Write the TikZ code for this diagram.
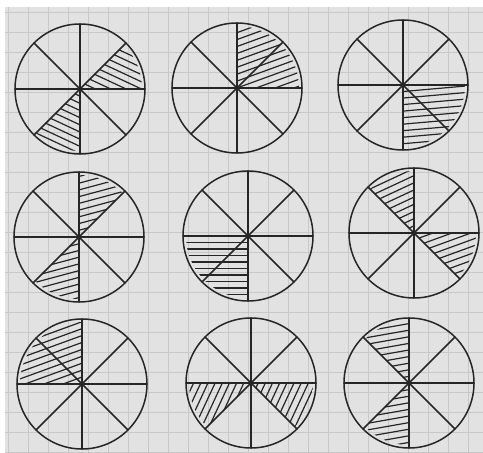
\documentclass[tikz,border=0pt]{standalone}
\usetikzlibrary{calc}
\definecolor{paper}{RGB}{226,226,226}
\definecolor{gridc}{RGB}{200,200,200}
\definecolor{pen}{RGB}{38,38,38}
\tikzset{
  circ/.style={draw=pen, line width=1.5pt},
  spoke/.style={draw=pen, line width=1.6pt, line cap=round},
  hatchline/.style={draw=pen, line width=1.2pt, line cap=round},
}
\newcommand\Rad{65}
% #1 centre name, #2 start angle, #3 end angle, #4 hatch angle
\newcommand\hsec[4]{%
  \begin{scope}
    \clip (#1) -- ($(#1)+(#2:\Rad-3)$) arc[start angle=#2, end angle=#3, radius=\Rad-3] -- cycle;
    \foreach \k in {-12,...,12}
      \draw[hatchline, shift={(#1)}, rotate=#4] (-90,\k*6.5) -- (90,\k*6.5);
  \end{scope}}
\newcommand\wheel[1]{%
  \foreach \a in {0,45,...,315}
    \draw[spoke] (#1) -- ++(\a:\Rad);
  \draw[circ] (#1) circle[radius=\Rad];}
\begin{document}
\begin{tikzpicture}[x=1pt,y=1pt]
  \useasboundingbox (0,0) rectangle (483,453);
  \fill[white] (0,0) rectangle (483,453);
  \fill[paper] (5,0) rectangle (483,446);
  \begin{scope}
    \clip (5,0) rectangle (483,446);
    \foreach \x in {8,28,...,480} \draw[gridc, line width=0.8pt] (\x,0) -- (\x,446);
    \foreach \y in {1,21,...,446} \draw[gridc, line width=0.8pt] (5,\y) -- (483,\y);
  \end{scope}
  \coordinate (c1) at (80,364);
  \coordinate (c2) at (237,365);
  \coordinate (c3) at (403,368);
  \coordinate (c4) at (79,216);
  \coordinate (c5) at (248,217);
  \coordinate (c6) at (414,220);
  \coordinate (c7) at (82,69);
  \coordinate (c8) at (251,70);
  \coordinate (c9) at (409,70);
  % hatching
  \hsec{c1}{0}{45}{-25}
  \hsec{c1}{225}{270}{-25}
  \hsec{c2}{0}{90}{20}
  \hsec{c3}{270}{360}{5}
  \hsec{c4}{45}{90}{15}
  \hsec{c4}{225}{270}{15}
  \hsec{c5}{180}{270}{0}
  \hsec{c6}{90}{135}{25}
  \hsec{c6}{315}{360}{20}
  \hsec{c7}{90}{180}{20}
  \hsec{c8}{180}{225}{65}
  \hsec{c8}{315}{360}{65}
  \hsec{c9}{90}{135}{10}
  \hsec{c9}{225}{270}{10}
  % wheels
  \wheel{c1}\wheel{c2}\wheel{c3}
  \wheel{c4}\wheel{c5}\wheel{c6}
  \wheel{c7}\wheel{c8}\wheel{c9}
\end{tikzpicture}
\end{document}
